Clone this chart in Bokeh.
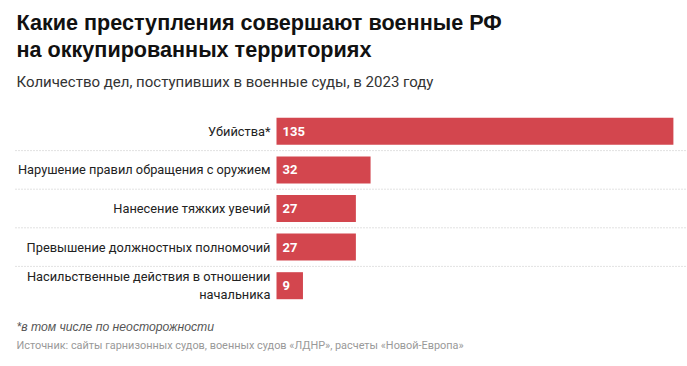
from bokeh.plotting import figure
from bokeh.models import ColumnDataSource, Range1d
from bokeh.core.properties import value
from bokeh.embed import file_html
from bokeh.resources import INLINE

categories = [
    "Убийства*",
    "Нарушение правил обращения с оружием",
    "Нанесение тяжких увечий",
    "Превышение должностных полномочий",
    "Насильственные действия в отношении\nначальника",
]
counts = [135, 32, 27, 27, 9]
value_labels = [str(v) for v in counts]

title_lines = ["Какие преступления совершают военные РФ", "на оккупированных территориях"]
subtitle = "Количество дел, поступивших в военные суды, в 2023 году"
footnote = "*в том числе по неосторожности"
source_text = "Источник: сайты гарнизонных судов, военных судов «ЛДНР», расчеты «Новой-Европа»"

# layout constants (canvas pixels)
W, H = 687, 366
ROWS_TOP = 111.5        # top of first row band
PITCH = 38.6            # height of a row band
ZERO_PX = 276           # x pixel of value 0
PX_PER_UNIT = 2.94
n = len(categories)
rows = list(range(n))


def px_x(cx):
    return (cx - ZERO_PX) / PX_PER_UNIT


def px_y(cy):
    return -0.5 + (cy - ROWS_TOP) / PITCH


p = figure(width=W, height=H, output_backend="svg", toolbar_location=None,
           x_range=Range1d(px_x(0), px_x(W)),
           y_range=Range1d(px_y(H), px_y(0)),
           min_border=0, min_border_left=0, min_border_right=0,
           min_border_top=0, min_border_bottom=0)
p.axis.visible = False
p.grid.visible = False
p.outline_line_color = None
p.background_fill_color = "white"
p.border_fill_color = "white"

src = ColumnDataSource(dict(row=rows, cat=categories, val=counts, lab=value_labels,
                            zero=[0] * n))

p.hbar(y="row", left=0, right="val", height=0.7, source=src,
       fill_color="#d3464e", line_color=None)

p.text(x="zero", y="row", text="cat", source=src, x_offset=-6,
       text_align="right", text_baseline="middle",
       text_font=value("Roboto"), text_font_size="12.8px", text_color="#222222",
       text_line_height=1.2)

p.text(x="zero", y="row", text="lab", source=src, x_offset=6,
       text_align="left", text_baseline="middle",
       text_font=value("Roboto"), text_font_size="13px", text_font_style="bold",
       text_color="white")

# dotted separators between rows
sep_y = [r + 0.5 for r in rows[:-1]]
p.segment(x0=[px_x(15)] * len(sep_y), x1=[px_x(686)] * len(sep_y), y0=sep_y, y1=sep_y,
          line_color="#c4c4c4", line_width=1, line_dash="1 2")


def add_text(text, cy, size, color, style="normal", font="Roboto", baseline="middle"):
    p.text(x=[px_x(16)], y=[px_y(cy)], text=[text], text_font=value(font),
           text_font_size=size, text_font_style=style, text_color=color,
           text_baseline=baseline, text_align="left")


add_text(title_lines[0], 22, "21.6px", "#111111", "bold", "Liberation Sans")
add_text(title_lines[1], 48.5, "21.6px", "#111111", "bold", "Liberation Sans")
add_text(subtitle, 81, "15px", "#333333")
add_text(footnote, 326, "12.2px", "#555555", "italic", "Liberation Sans")
add_text(source_text, 345, "10.9px", "#999999")

open("out.html", "w").write(file_html(p, INLINE))
